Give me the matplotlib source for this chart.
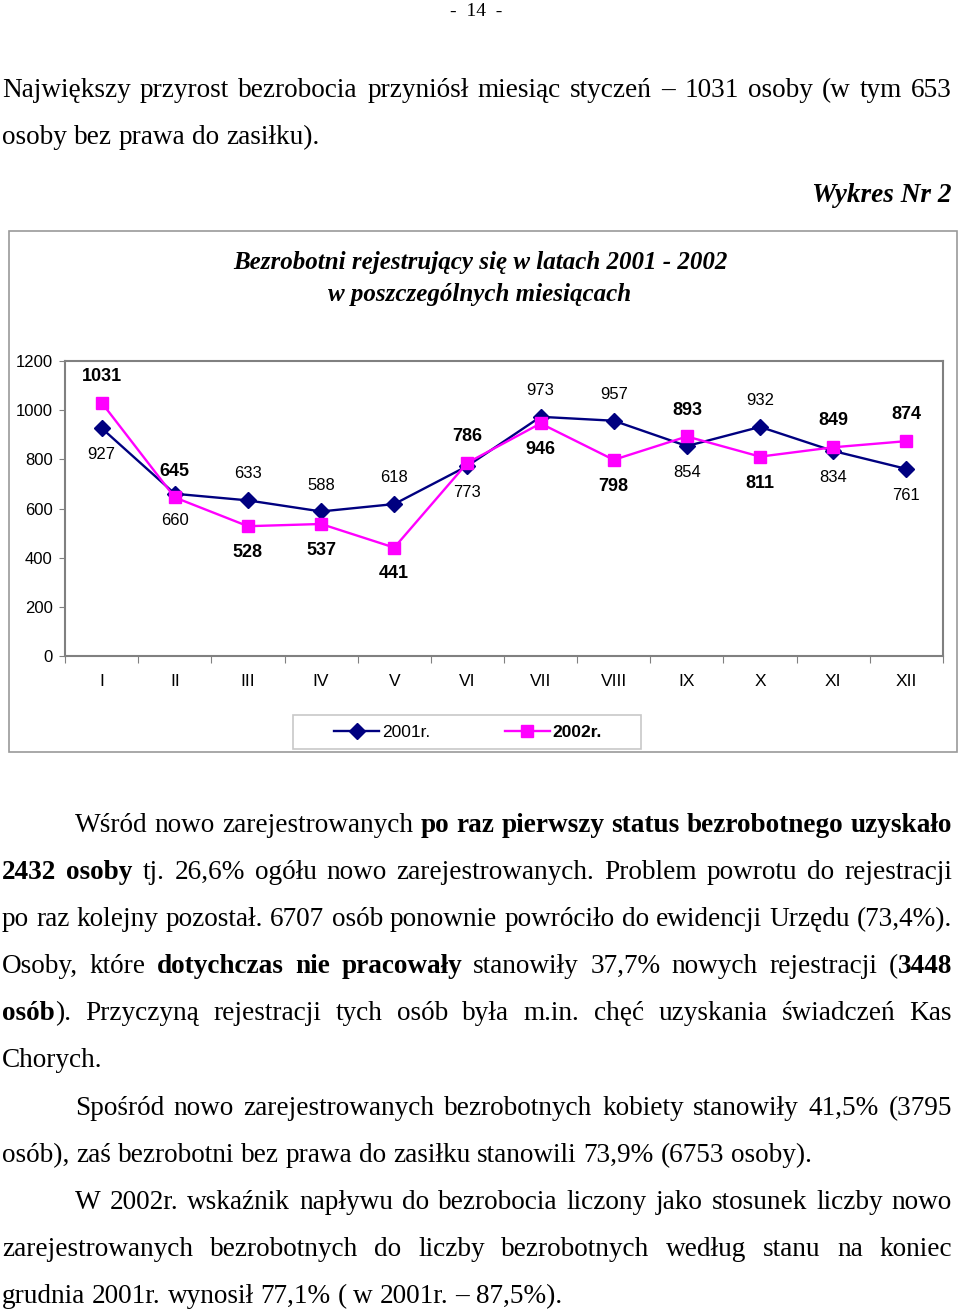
import matplotlib
matplotlib.use('Agg')
import matplotlib.pyplot as plt

# dane do wykresu
months = ['I', 'II', 'III', 'IV', 'V', 'VI', 'VII', 'VIII', 'IX', 'X', 'XI', 'XII']
y2001 = [927, 660, 633, 588, 618, 773, 973, 957, 854, 932, 834, 761]
y2002 = [1031, 645, 528, 537, 441, 786, 946, 798, 893, 811, 849, 874]
# etykiety nad ('a') albo pod ('b') punktem
pos2001 = ['b', 'b', 'a', 'a', 'a', 'b', 'a', 'a', 'b', 'a', 'b', 'b']
pos2002 = ['a', 'a', 'b', 'b', 'b', 'a', 'b', 'b', 'a', 'b', 'a', 'a']
yticks = [0, 200, 400, 600, 800, 1000, 1200]

W, H = 960, 1311
SERIF = 'Liberation Serif'
BODY = 19.6
plt.rcParams['font.family'] = 'Liberation Sans'

fig = plt.figure(figsize=(W / 100, H / 100), dpi=100)
page = fig.add_axes([0, 0, 1, 1])
page.set_xlim(0, W)
page.set_ylim(H, 0)
page.axis('off')
renderer = fig.canvas.get_renderer()


def put_line(spec, y, x0=2, x1=952, justify=True, size=BODY):
    # '*' przelacza pogrubienie
    words = []
    bold = False
    for w in spec.split(' '):
        runs = []
        for k, part in enumerate(w.split('*')):
            if k > 0:
                bold = not bold
            if part:
                runs.append((part, bold))
        words.append(runs)
    arts, widths = [], []
    for runs in words:
        wl, tw = [], 0
        for txt, b in runs:
            t = page.text(0, y + 9, txt, family=SERIF, fontsize=size,
                          weight='bold' if b else 'normal', va='baseline', ha='left')
            w = t.get_window_extent(renderer).width
            wl.append((t, w))
            tw += w
        arts.append(wl)
        widths.append(tw)
    if justify and len(words) > 1:
        gap = (x1 - x0 - sum(widths)) / (len(words) - 1)
    else:
        gap = 0.25 * size * 100 / 72
    x = x0
    for wl, tw in zip(arts, widths):
        xx = x
        for t, w in wl:
            t.set_x(xx)
            xx += w
        x += tw + gap


# naglowek strony i tekst nad wykresem
page.text(476, 11, '-  14  -', family=SERIF, fontsize=14, ha='center', va='center')
put_line('Największy przyrost bezrobocia przyniósł miesiąc styczeń – 1031 osoby (w tym 653', 88)
put_line('osoby bez prawa do zasiłku).', 135, justify=False)
page.text(952, 196, 'Wykres Nr 2', family=SERIF, fontsize=BODY, weight='bold', style='italic',
          ha='right', va='center')

# ramka wykresu
page.add_patch(plt.Rectangle((9, 231), 948, 521, fill=False, edgecolor='#9a9a9a', lw=1.2))
page.text(480, 263, 'Bezrobotni rejestrujący się w latach 2001 - 2002', family=SERIF, fontsize=18,
          weight='bold', style='italic', ha='center', va='center')
page.text(480, 294, 'w poszczególnych miesiącach', family=SERIF, fontsize=18,
          weight='bold', style='italic', ha='center', va='center')

ax = fig.add_axes([65 / W, 1 - 656 / H, (943 - 65) / W, (656 - 361) / H])
x = list(range(1, 13))
ax.plot(x, y2001, color='#000080', marker='D', ms=8, lw=1.7, label='2001r.')
ax.plot(x, y2002, color='#ff00ff', marker='s', ms=9, lw=1.7, label='2002r.')

for i in range(12):
    off = 19 if pos2001[i] == 'a' else -19
    ax.annotate(str(y2001[i]), (x[i], y2001[i]), xytext=(0, off), textcoords='offset points',
                ha='center', va='center', fontsize=12)
    off = 19 if pos2002[i] == 'a' else -19
    ax.annotate(str(y2002[i]), (x[i], y2002[i]), xytext=(0, off), textcoords='offset points',
                ha='center', va='center', fontsize=13, fontweight='bold')

ax.set_xlim(0.5, 12.5)
ax.set_ylim(0, 1200)
ax.set_xticks([i + 0.5 for i in range(13)])
ax.set_xticklabels([])
ax.set_xticks(x, minor=True)
ax.set_xticklabels(months, minor=True)
ax.tick_params(axis='x', which='major', length=5, color='#808080')
ax.tick_params(axis='x', which='minor', length=0, pad=13, labelsize=12.5)
ax.set_yticks(yticks)
ax.tick_params(axis='y', length=4, pad=5, labelsize=12, color='#808080')
for s in ax.spines.values():
    s.set_color('#808080')
    s.set_linewidth(1.5)

# legenda z osobna ramka
page.add_patch(plt.Rectangle((293, 715), 348, 34, fill=False, edgecolor='#c8c8c8', lw=1.2))
leg = ax.legend(loc='center', bbox_to_anchor=(468 / W, 1 - 732 / H), bbox_transform=fig.transFigure,
                ncol=2, frameon=False, fontsize=12.5, handlelength=2.6, handletextpad=0.15,
                columnspacing=4.3, borderpad=0.2)
leg.get_texts()[1].set_fontweight('bold')

# tekst pod wykresem
put_line('Wśród nowo zarejestrowanych *po raz pierwszy status bezrobotnego uzyskało', 823, x0=75)
put_line('*2432 osoby* tj. 26,6% ogółu nowo zarejestrowanych. Problem powrotu do rejestracji', 870)
put_line('po raz kolejny pozostał. 6707 osób ponownie powróciło do ewidencji Urzędu (73,4%).', 917)
put_line('Osoby, które *dotychczas nie pracowały* stanowiły 37,7% nowych rejestracji (*3448', 964)
put_line('*osób*). Przyczyną rejestracji tych osób była m.in. chęć uzyskania świadczeń Kas', 1011)
put_line('Chorych.', 1058, justify=False)
put_line('Spośród nowo zarejestrowanych bezrobotnych kobiety stanowiły 41,5% (3795', 1106, x0=75)
put_line('osób), zaś bezrobotni bez prawa do zasiłku stanowili 73,9% (6753 osoby).', 1153, justify=False)
put_line('W 2002r. wskaźnik napływu do bezrobocia liczony jako stosunek liczby nowo', 1200, x0=75)
put_line('zarejestrowanych bezrobotnych do liczby bezrobotnych według stanu na koniec', 1247)
put_line('grudnia 2001r. wynosił 77,1% ( w 2001r. – 87,5%).', 1294, justify=False)

fig.savefig('out.png', dpi=100)
